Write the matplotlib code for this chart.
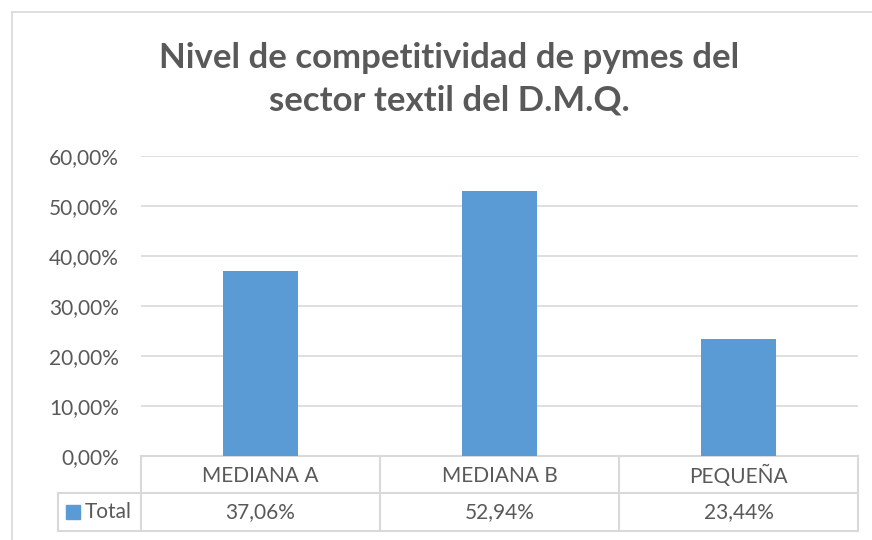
import matplotlib
matplotlib.use("Agg")
import matplotlib.pyplot as plt
from matplotlib.lines import Line2D
from matplotlib.patches import Rectangle

plt.rcParams["font.family"] = ["Lato", "DejaVu Sans"]

#datos del grafico
categorias = ["MEDIANA A", "MEDIANA B", "PEQUEÑA"]
valores = [0.3706, 0.5294, 0.2344]
serie = "Total"
titulo = ["Nivel de competitividad de pymes del", "sector textil del D.M.Q."]
ticks_y = [0.0, 0.1, 0.2, 0.3, 0.4, 0.5, 0.6]

AZUL = "#5B9BD5"
TEXTO = "#595959"
GRIS = "#D9D9D9"

def pct(v):
    return f"{v*100:.2f}%".replace(".", ",")

fig = plt.figure(figsize=(8.72, 5.4), dpi=100)
W, H = 872, 540

#marco del grafico (recortado a la derecha y abajo)
fig.add_artist(Line2D([12/W, 1], [1 - 12/H, 1 - 12/H], color=GRIS, lw=1.2))
fig.add_artist(Line2D([12/W, 12/W], [0, 1 - 12/H], color=GRIS, lw=1.2))

ax = fig.add_axes([141/W, 84/H, 717/W, 300.3/H])
x = list(range(len(categorias)))
ax.bar(x, valores, width=0.31, color=AZUL, zorder=3)
ax.set_xlim(-0.5, len(categorias) - 0.5)
ax.set_ylim(0, 0.6)
ax.set_yticks(ticks_y)
ax.set_yticklabels([pct(t) for t in ticks_y], fontsize=15, color=TEXTO)
ax.tick_params(axis="y", length=0, pad=16)
ax.set_xticks([])
ax.grid(axis="y", color=GRIS, lw=1.2, zorder=0)
for s in ax.spines.values():
    s.set_visible(False)

#tabla de datos debajo del eje
tr = ax.get_xaxis_transform()
y1, y2 = -0.1232, -0.2498
x_izq = -0.849
n = len(categorias)
kw = dict(color=GRIS, lw=1.5, transform=tr, clip_on=False)
ax.add_line(Line2D([-0.5, n - 0.5], [0, 0], **kw))
ax.add_line(Line2D([x_izq, n - 0.5], [y1, y1], **kw))
ax.add_line(Line2D([x_izq, n - 0.5], [y2, y2], **kw))
ax.add_line(Line2D([x_izq, x_izq], [y1, y2], **kw))
for b in [i - 0.5 for i in range(n + 1)]:
    ax.add_line(Line2D([b, b], [0, y2], **kw))

for i, (c, v) in enumerate(zip(categorias, valores)):
    ax.text(i, y1 / 2 - 0.005, c, transform=tr, ha="center", va="center", fontsize=15, color=TEXTO)
    ax.text(i, (y1 + y2) / 2, pct(v), transform=tr, ha="center", va="center", fontsize=15, color=TEXTO)

#clave de la leyenda en la tabla
fig.add_artist(Rectangle((66/W, 1 - 519/H), 14/W, 14/H, color=AZUL, transform=fig.transFigure))
fig.text(85/W, 1 - 512/H, serie, ha="left", va="center", fontsize=15, color=TEXTO)

#titulo en dos lineas
for linea, yb in zip(titulo, [68, 111]):
    fig.text(449/W, 1 - yb/H, linea, ha="center", va="baseline", fontsize=25,
             fontweight="bold", color=TEXTO)

fig.savefig("out.png", dpi=100, facecolor="white")
